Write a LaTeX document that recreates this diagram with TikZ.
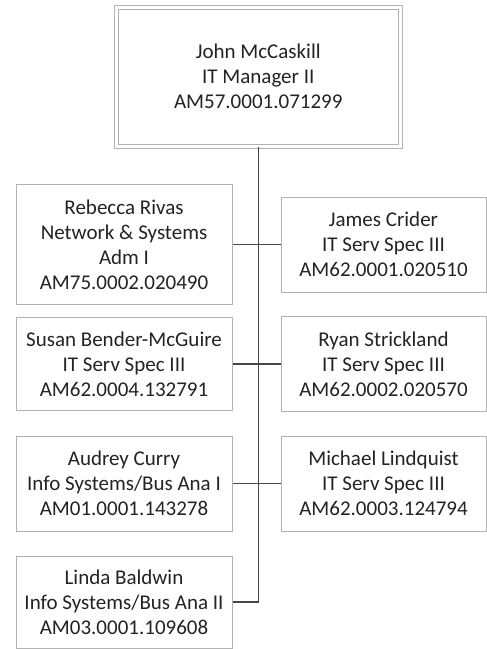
\documentclass[tikz,border=0pt]{standalone}
\usepackage{fontspec}
\setmainfont{Carlito}
\usetikzlibrary{positioning}
\definecolor{boxgray}{RGB}{178,178,178}
\definecolor{linegray}{RGB}{70,70,70}
\definecolor{textgray}{RGB}{35,35,35}

\begin{document}
\begin{tikzpicture}[x=1pt, y=-1pt,
    person/.style={rectangle, draw=boxgray, line width=1pt, fill=white, inner sep=0pt, align=center, text=textgray, font=\fontsize{21}{25}\selectfont},
    leftbox/.style={person, minimum width=216pt},
    rightbox/.style={person, minimum width=205pt},
    link/.style={draw=linegray, line width=1.5pt}]
    \useasboundingbox (0,0) rectangle (487,649);

    % Manager
    \node[person, double, double distance=3pt, minimum width=283.5pt, minimum height=139.5pt] (mccaskill) at (258.25,76.75) {John McCaskill\\IT Manager II\\AM57.0001.071299};

    % Left column
    \node[leftbox, minimum height=120pt] (rivas) at (124,244.5) {Rebecca Rivas\\Network \& Systems\\Adm I\\AM75.0002.020490};
    \node[leftbox, minimum height=93pt] (bender) at (124,364) {Susan Bender-McGuire\\IT Serv Spec III\\AM62.0004.132791};
    \node[leftbox, minimum height=95pt] (curry) at (124,483.5) {Audrey Curry\\Info Systems/Bus Ana I\\AM01.0001.143278};
    \node[leftbox, minimum height=92pt] (baldwin) at (124,602) {Linda Baldwin\\Info Systems/Bus Ana II\\AM03.0001.109608};

    % Right column
    \node[rightbox, minimum height=95pt] (crider) at (383.5,244.5) {James Crider\\IT Serv Spec III\\AM62.0001.020510};
    \node[rightbox, minimum height=95pt] (strickland) at (383.5,364) {Ryan Strickland\\IT Serv Spec III\\AM62.0002.020570};
    \node[rightbox, minimum height=95pt] (lindquist) at (383.5,483.5) {Michael Lindquist\\IT Serv Spec III\\AM62.0003.124794};

    % Connectors
    \draw[link] (mccaskill.south) |- (baldwin.east);
    \draw[link] (rivas.east) -- (crider.west);
    \draw[link] (bender.east) -- (strickland.west);
    \draw[link] (curry.east) -- (lindquist.west);
\end{tikzpicture}
\end{document}
